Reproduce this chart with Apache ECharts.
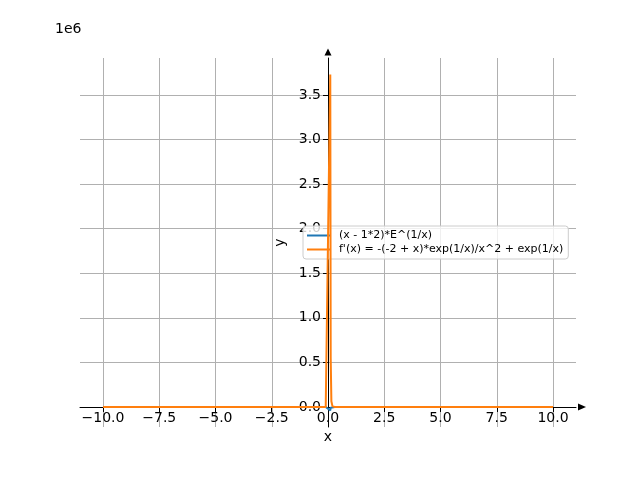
<!DOCTYPE html>
<html>
<head>
<meta charset="utf-8">
<script src="https://cdn.jsdelivr.net/npm/echarts@6/dist/echarts.min.js"></script>
<style>html,body{margin:0;padding:0;background:#fff;}#c{width:640px;height:480px;}</style>
</head>
<body>
<div id="c"></div>
<script>
const xValues = [-10, -7.5, -5, -2.5, -1, -0.5, -0.101, 0.101, 0.12, 0.15, 0.2, 0.303, 0.505, 1, 2.5, 5, 7.5, 10];
const seriesF = [-10.9, -8.2, -6.1, -3.0, -1.1, -0.34, 0, -37800, -7400, -1450, -267, -46, -10.6, -2.7, 0.75, 3.66, 6.06, 8.84];
const seriesDF = [1.0, 1.0, 1.0, 0.9, 0.37, 0.47, 0.01, 3729000, 547000, 65000, 6800, 528, 50, 5.4, 1.98, 1.22, 1.1, 1.01];
const seriesNames = ['(x - 1*2)*E^(1/x)', "f'(x) = -(-2 + x)*exp(1/x)/x^2 + exp(1/x)"];
const xTicks = [-10, -7.5, -5, -2.5, 0, 2.5, 5, 7.5, 10];
const yTicks = [0, 500000, 1000000, 1500000, 2000000, 2500000, 3000000, 3500000];

const FONT = 'DejaVu Sans';
const pair = (xs, ys) => xs.map((x, i) => [x, ys[i]]);
const fmtX = v => (v < 0 ? '\u2212' : '') + Math.abs(v).toFixed(1);
const fmtY = v => (v / 1e6).toFixed(1);

// plot area and data limits
const G = {left: 80, right: 64, top: 58, bottom: 53};
const XMIN = -11.022, XMAX = 11.022, YMIN = -224400, YMAX = 3915100;
const W = 640 - G.left - G.right, H = 480 - G.top - G.bottom;
// shift the spines onto the data origin
const yAxisOffset = -(0 - XMIN) / (XMAX - XMIN) * W;
const xAxisOffset = -(0 - YMIN) / (YMAX - YMIN) * H;

const chart = echarts.init(document.getElementById('c'), null, {renderer: 'canvas'});
const hidden = {axisLine:{show:false}, axisTick:{show:false}, axisLabel:{show:false}, splitLine:{show:false}};
chart.setOption({
  animation: false,
  backgroundColor: '#fff',
  textStyle: {fontFamily: FONT},
  grid: [
    G,
    {left: 103, right: 87, top: 58, bottom: 53},
    {left: 80, right: 64, top: 95, bottom: 73}
  ],
  xAxis: [
    {gridIndex: 0, type: 'value', min: XMIN, max: XMAX, position: 'bottom', offset: xAxisOffset,
     name: 'x', nameLocation: 'middle', nameGap: 21,
     nameTextStyle: {fontSize: 14, color: '#000', fontFamily: FONT},
     axisLine: {show: true, onZero: false, lineStyle: {color: '#000', width: 1},
       symbol: ['none', 'triangle'], symbolSize: [7, 8], symbolOffset: [0, 6]},
     axisTick: {show: true, customValues: xTicks, length: 5, lineStyle: {color: '#000', width: 1}},
     axisLabel: {show: true, customValues: xTicks, formatter: fmtX, margin: 4,
       fontSize: 14, color: '#000', fontFamily: FONT},
     splitLine: {show: false}},
    Object.assign({gridIndex: 1, type: 'value', min: -10, max: 10, interval: 2.5}, hidden,
      {splitLine: {show: true, lineStyle: {color: '#b0b0b0', width: 1}}}),
    Object.assign({gridIndex: 2, type: 'value', min: XMIN, max: XMAX}, hidden)
  ],
  yAxis: [
    {gridIndex: 0, type: 'value', min: YMIN, max: YMAX, position: 'left', offset: yAxisOffset,
     name: 'y', nameLocation: 'middle', nameGap: 35, nameRotate: 90,
     nameTextStyle: {fontSize: 14, color: '#000', fontFamily: FONT},
     axisLine: {show: true, onZero: false, lineStyle: {color: '#000', width: 1},
       symbol: ['none', 'triangle'], symbolSize: [7, 7], symbolOffset: [0, 6]},
     axisTick: {show: true, customValues: yTicks, length: 5, lineStyle: {color: '#000', width: 1}},
     axisLabel: {show: true, customValues: yTicks, formatter: fmtY, margin: 7,
       fontSize: 14, color: '#000', fontFamily: FONT},
     splitLine: {show: false}},
    Object.assign({gridIndex: 1, type: 'value', min: YMIN, max: YMAX}, hidden),
    Object.assign({gridIndex: 2, type: 'value', min: 0, max: 3500000, interval: 500000}, hidden,
      {splitLine: {show: true, lineStyle: {color: '#b0b0b0', width: 1}}})
  ],
  legend: {
    orient: 'vertical', left: 303, top: 226,
    data: seriesNames,
    icon: 'rect', itemWidth: 24, itemHeight: 2, itemGap: 3,
    padding: [4, 5, 4, 4],
    backgroundColor: 'rgba(255,255,255,0.8)', borderColor: '#cccccc', borderWidth: 1, borderRadius: 3,
    textStyle: {fontSize: 11, color: '#000', fontFamily: FONT, padding: [0, 0, 0, 3]}
  },
  graphic: [
    {type: 'text', left: 55, top: 22, style: {text: '1e6', fontSize: 14, fill: '#000', fontFamily: FONT}}
  ],
  series: [
    {name: seriesNames[0], type: 'line', xAxisIndex: 0, yAxisIndex: 0, data: pair(xValues, seriesF),
     symbol: 'none', showSymbol: false, color: '#1f77b4', lineStyle: {color: '#1f77b4', width: 2}, z: 3},
    {name: seriesNames[1], type: 'line', xAxisIndex: 0, yAxisIndex: 0, data: pair(xValues, seriesDF),
     symbol: 'none', showSymbol: false, color: '#ff7f0e', lineStyle: {color: '#ff7f0e', width: 2}, z: 4}
  ]
});
</script>
</body>
</html>
